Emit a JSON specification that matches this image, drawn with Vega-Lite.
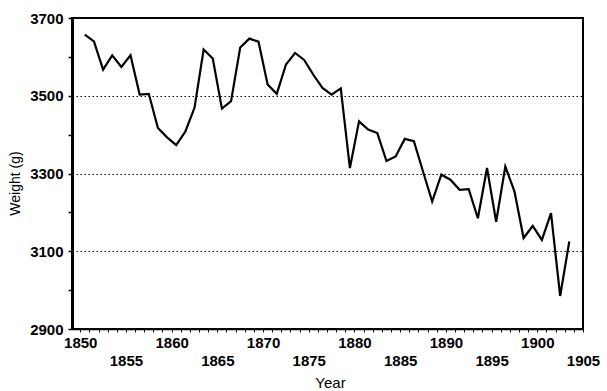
{
  "$schema": "https://vega.github.io/schema/vega-lite/v6.json",
  "width": 511,
  "height": 311,
  "autosize": {"type": "none"},
  "padding": {"left": 72, "top": 18, "right": 24, "bottom": 62},
  "background": "white",
  "config": {"view": {"stroke": "black", "strokeWidth": 2}, "font": "Liberation Sans"},
  "data": {"values": [
    {"year": 1850.5, "weight": 3657}, {"year": 1851.5, "weight": 3640}, {"year": 1852.5, "weight": 3567},
    {"year": 1853.5, "weight": 3604}, {"year": 1854.5, "weight": 3574}, {"year": 1855.5, "weight": 3604},
    {"year": 1856.5, "weight": 3503}, {"year": 1857.5, "weight": 3505}, {"year": 1858.5, "weight": 3417},
    {"year": 1859.5, "weight": 3393}, {"year": 1860.5, "weight": 3373}, {"year": 1861.5, "weight": 3408},
    {"year": 1862.5, "weight": 3469}, {"year": 1863.5, "weight": 3619}, {"year": 1864.5, "weight": 3596},
    {"year": 1865.5, "weight": 3467}, {"year": 1866.5, "weight": 3486}, {"year": 1867.5, "weight": 3624},
    {"year": 1868.5, "weight": 3647}, {"year": 1869.5, "weight": 3639}, {"year": 1870.5, "weight": 3529},
    {"year": 1871.5, "weight": 3505}, {"year": 1872.5, "weight": 3580}, {"year": 1873.5, "weight": 3610},
    {"year": 1874.5, "weight": 3592}, {"year": 1875.5, "weight": 3554}, {"year": 1876.5, "weight": 3520},
    {"year": 1877.5, "weight": 3503}, {"year": 1878.5, "weight": 3519}, {"year": 1879.5, "weight": 3314},
    {"year": 1880.5, "weight": 3434}, {"year": 1881.5, "weight": 3413}, {"year": 1882.5, "weight": 3404},
    {"year": 1883.5, "weight": 3332}, {"year": 1884.5, "weight": 3344}, {"year": 1885.5, "weight": 3389},
    {"year": 1886.5, "weight": 3383}, {"year": 1887.5, "weight": 3305}, {"year": 1888.5, "weight": 3228},
    {"year": 1889.5, "weight": 3297}, {"year": 1890.5, "weight": 3284}, {"year": 1891.5, "weight": 3258},
    {"year": 1892.5, "weight": 3260}, {"year": 1893.5, "weight": 3185}, {"year": 1894.5, "weight": 3314},
    {"year": 1895.5, "weight": 3176}, {"year": 1896.5, "weight": 3318}, {"year": 1897.5, "weight": 3254},
    {"year": 1898.5, "weight": 3134}, {"year": 1899.5, "weight": 3165}, {"year": 1900.5, "weight": 3129},
    {"year": 1901.5, "weight": 3198}, {"year": 1902.5, "weight": 2985}, {"year": 1903.5, "weight": 3125}
  ]},
  "mark": {"type": "line", "color": "black", "strokeWidth": 2.2},
  "encoding": {
    "x": {
      "field": "year", "type": "quantitative",
      "scale": {"domain": [1849.1, 1905], "nice": false, "zero": false},
      "axis": {
        "title": "Year",
        "values": [1850,1851,1852,1853,1854,1855,1856,1857,1858,1859,1860,1861,1862,1863,1864,1865,1866,1867,1868,1869,1870,1871,1872,1873,1874,1875,1876,1877,1878,1879,1880,1881,1882,1883,1884,1885,1886,1887,1888,1889,1890,1891,1892,1893,1894,1895,1896,1897,1898,1899,1900,1901,1902,1903,1904,1905],
        "format": "d",
        "labelExpr": "datum.value % 5 == 0 ? datum.label : ''",
        "grid": false,
        "tickSize": 3, "tickColor": "black", "tickWidth": 1,
        "domainColor": "black", "domainWidth": 1.5,
        "labelColor": "black", "labelFontSize": 15, "labelFontWeight": "bold",
        "labelFlush": false, "labelOverlap": false, "labelBaseline": "top",
        "labelPadding": {"condition": {"test": "datum.value % 10 == 5", "value": 21}, "value": 3},
        "titleFontSize": 15, "titleFontWeight": "normal", "titleColor": "black",
        "titleX": 258, "titleY": 53, "titleBaseline": "middle"
      }
    },
    "y": {
      "field": "weight", "type": "quantitative",
      "scale": {"domain": [2900, 3700], "nice": false, "zero": false},
      "axis": {
        "title": "Weight (g)",
        "values": [2900, 3000, 3100, 3200, 3300, 3400, 3500, 3600, 3700],
        "format": "d",
        "labelExpr": "datum.value % 200 == 100 ? datum.label : ''",
        "tickSize": 4, "tickColor": "black", "tickWidth": 1.5,
        "domainColor": "black", "domainWidth": 3,
        "labelColor": "black", "labelFontSize": 15, "labelFontWeight": "bold",
        "labelPadding": 5, "labelOverlap": false, "labelBaseline": "middle",
        "grid": true, "gridColor": "black", "gridWidth": 1, "gridDash": [1.5, 2.5],
        "gridOpacity": {"condition": {"test": "datum.value % 200 == 100 && datum.value > 2900 && datum.value < 3700", "value": 1}, "value": 0},
        "titleFontSize": 14, "titleFontWeight": "normal", "titleColor": "black",
        "titleX": -57, "titleY": 165, "titleBaseline": "middle"
      }
    }
  }
}
